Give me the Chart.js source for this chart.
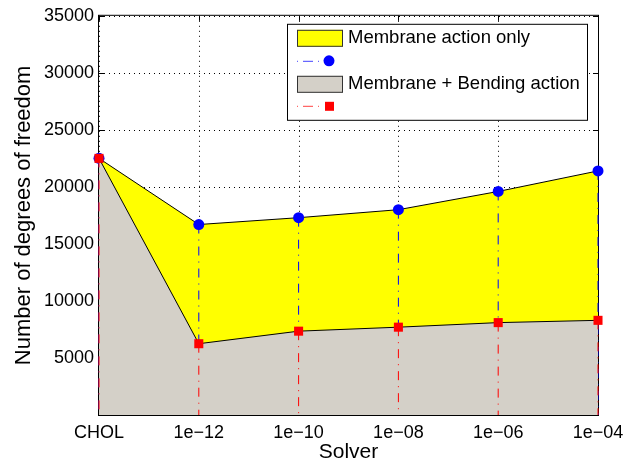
<!DOCTYPE html>
<html>
<head>
<meta charset="utf-8">
<script src="https://cdn.jsdelivr.net/npm/chart.js@4.4.0/dist/chart.umd.min.js"></script>
<style>
  html, body { margin: 0; padding: 0; background: #fff; }
</style>
</head>
<body>
<canvas id="myChart" width="634" height="463"></canvas>
<script>
// data
var solvers = ['CHOL', '1e\u221212', '1e\u221210', '1e\u221208', '1e\u221206', '1e\u221204'];
var membraneOnly = [22500, 16700, 17300, 18000, 19600, 21400];
var membraneBending = [22500, 6250, 7350, 7700, 8100, 8300];
var yTicks = [5000, 10000, 15000, 20000, 25000, 30000, 35000];
var legendLabels = ['Membrane action only', 'Membrane + Bending action'];

var FONT = "'Liberation Sans', Arial, Helvetica, sans-serif";
var dashDot = [9, 6, 1, 6];

// dotted grid, box and inward ticks, drawn under the data like matlab
var boxPlugin = {
  id: 'box',
  beforeDatasetsDraw: function (chart) {
    var a = chart.chartArea, ctx = chart.ctx;
    var xs = chart.scales.x, ys = chart.scales.y;
    ctx.save();
    ctx.strokeStyle = '#000';
    ctx.lineWidth = 1;

    // grid
    ctx.setLineDash([1, 4]);
    ctx.beginPath();
    yTicks.forEach(function (v) {
      var py = Math.round(ys.getPixelForValue(v)) + 0.5;
      ctx.moveTo(a.left, py); ctx.lineTo(a.right, py);
    });
    solvers.forEach(function (s, i) {
      var px = Math.round(xs.getPixelForValue(i)) + 0.5;
      ctx.moveTo(px, a.top); ctx.lineTo(px, a.bottom);
    });
    ctx.stroke();

    ctx.setLineDash([]);
    ctx.strokeRect(a.left - 0.5, a.top - 0.5, a.right - a.left + 1, a.bottom - a.top + 1);
    ctx.beginPath();
    yTicks.forEach(function (v) {
      var py = Math.round(ys.getPixelForValue(v)) + 0.5;
      ctx.moveTo(a.left, py); ctx.lineTo(a.left + 5, py);
      ctx.moveTo(a.right, py); ctx.lineTo(a.right - 5, py);
    });
    solvers.forEach(function (s, i) {
      var px = Math.round(xs.getPixelForValue(i)) + 0.5;
      ctx.moveTo(px, a.top); ctx.lineTo(px, a.top + 5);
      ctx.moveTo(px, a.bottom); ctx.lineTo(px, a.bottom - 5);
    });
    ctx.stroke();
    ctx.restore();
  }
};

// dash-dot stems under each marker set
var stemPlugin = {
  id: 'stems',
  beforeDatasetDraw: function (chart, args) {
    var ds = chart.data.datasets[args.index];
    if (!ds.stemColor) return;
    var xs = chart.scales.x, ys = chart.scales.y, ctx = chart.ctx;
    ctx.save();
    ctx.strokeStyle = ds.stemColor;
    ctx.lineWidth = 1;
    ctx.setLineDash(dashDot);
    ds.data.forEach(function (v, i) {
      var px = xs.getPixelForValue(i);
      ctx.beginPath();
      ctx.moveTo(px, ys.getPixelForValue(v));
      ctx.lineTo(px, ys.getPixelForValue(0));
      ctx.stroke();
    });
    ctx.restore();
  }
};

// matlab style legend box
var legendPlugin = {
  id: 'matlabLegend',
  afterDraw: function (chart) {
    var a = chart.chartArea, ctx = chart.ctx;
    var bx = a.right - 311, by = a.top + 8;
    ctx.save();
    ctx.fillStyle = '#fff';
    ctx.fillRect(bx, by, 300, 96);
    ctx.strokeStyle = '#000';
    ctx.lineWidth = 1;
    ctx.strokeRect(bx + 0.5, by + 0.5, 300, 96);

    var px = bx + 10, rows = [14, 37, 60, 82];
    // patches
    ctx.fillStyle = '#ffff00';
    ctx.fillRect(px, by + 6, 46, 17);
    ctx.strokeStyle = '#333';
    ctx.strokeRect(px + 0.5, by + 6.5, 45, 16);
    ctx.fillStyle = '#d4d0c8';
    ctx.fillRect(px, by + 52, 46, 17);
    ctx.strokeRect(px + 0.5, by + 52.5, 45, 16);

    // stem samples
    [['#0000ff', rows[1]], ['#ff0000', rows[3]]].forEach(function (r) {
      ctx.strokeStyle = r[0];
      ctx.globalAlpha = 0.75;
      ctx.setLineDash([1, 5, 10, 5]);
      ctx.beginPath();
      ctx.moveTo(px, by + r[1] + 0.5);
      ctx.lineTo(px + 24, by + r[1] + 0.5);
      ctx.stroke();
      ctx.globalAlpha = 1;
    });
    ctx.setLineDash([]);
    ctx.fillStyle = '#0000ff';
    ctx.beginPath();
    ctx.arc(px + 32, by + rows[1], 5.5, 0, Math.PI * 2);
    ctx.fill();
    ctx.fillStyle = '#ff0000';
    ctx.fillRect(px + 28, by + rows[3] - 4, 9, 9);

    ctx.fillStyle = '#000';
    ctx.font = '18.5px ' + FONT;
    ctx.textBaseline = 'middle';
    ctx.fillText(legendLabels[0], px + 51, by + rows[0] + 0.5);
    ctx.fillText(legendLabels[1], px + 51, by + rows[2] + 0.5);
    ctx.restore();
  }
};

var myChart = new Chart(document.getElementById('myChart'), {
  type: 'line',
  data: {
    labels: solvers,
    datasets: [
      {
        label: legendLabels[0],
        data: membraneOnly,
        fill: 'origin',
        backgroundColor: '#ffff00',
        borderColor: '#000',
        borderWidth: 1,
        pointRadius: 0,
        tension: 0,
        order: 4
      },
      {
        label: '',
        data: membraneOnly,
        showLine: false,
        stemColor: '#0000ff',
        pointStyle: 'circle',
        pointRadius: 5.5,
        pointBorderWidth: 0,
        pointBackgroundColor: '#0000ff',
        pointBorderColor: '#0000ff',
        clip: false,
        order: 3
      },
      {
        label: legendLabels[1],
        data: membraneBending,
        fill: 'origin',
        backgroundColor: '#d4d0c8',
        borderColor: '#000',
        borderWidth: 1,
        pointRadius: 0,
        tension: 0,
        order: 2
      },
      {
        label: '',
        data: membraneBending,
        showLine: false,
        stemColor: '#ff0000',
        pointStyle: 'rect',
        pointRadius: 6.4,
        pointBorderWidth: 0,
        pointBackgroundColor: '#ff0000',
        pointBorderColor: '#ff0000',
        clip: false,
        order: 1
      }
    ]
  },
  options: {
    responsive: false,
    devicePixelRatio: 1,
    animation: false,
    layout: { padding: { left: 0, right: 36, top: 15, bottom: 0 } },
    plugins: {
      legend: { display: false },
      tooltip: { enabled: false }
    },
    scales: {
      x: {
        type: 'category',
        offset: false,
        grid: { display: false, drawTicks: false },
        border: { display: false },
        ticks: { color: '#000', font: { family: FONT, size: 18 }, padding: 7, maxRotation: 0, autoSkip: false },
        title: { display: true, text: 'Solver', color: '#000', font: { family: FONT, size: 21, lineHeight: 1 }, padding: { top: 0, bottom: 0 } },
        afterFit: function (s) { s.height = 48; }
      },
      y: {
        min: 0,
        max: 35000,
        grid: { display: false, drawTicks: false },
        border: { display: false },
        afterBuildTicks: function (s) { s.ticks = yTicks.map(function (v) { return { value: v }; }); },
        ticks: {
          color: '#000',
          font: { family: FONT, size: 18 },
          padding: 5,
          callback: function (v) { return String(v); }
        },
        title: { display: true, text: 'Number of degrees of freedom', color: '#000', font: { family: FONT, size: 22, lineHeight: 1 }, padding: { top: 13, bottom: 0 } },
        afterFit: function (s) { s.width = 99; }
      }
    }
  },
  plugins: [boxPlugin, stemPlugin, legendPlugin]
});
</script>
</body>
</html>
